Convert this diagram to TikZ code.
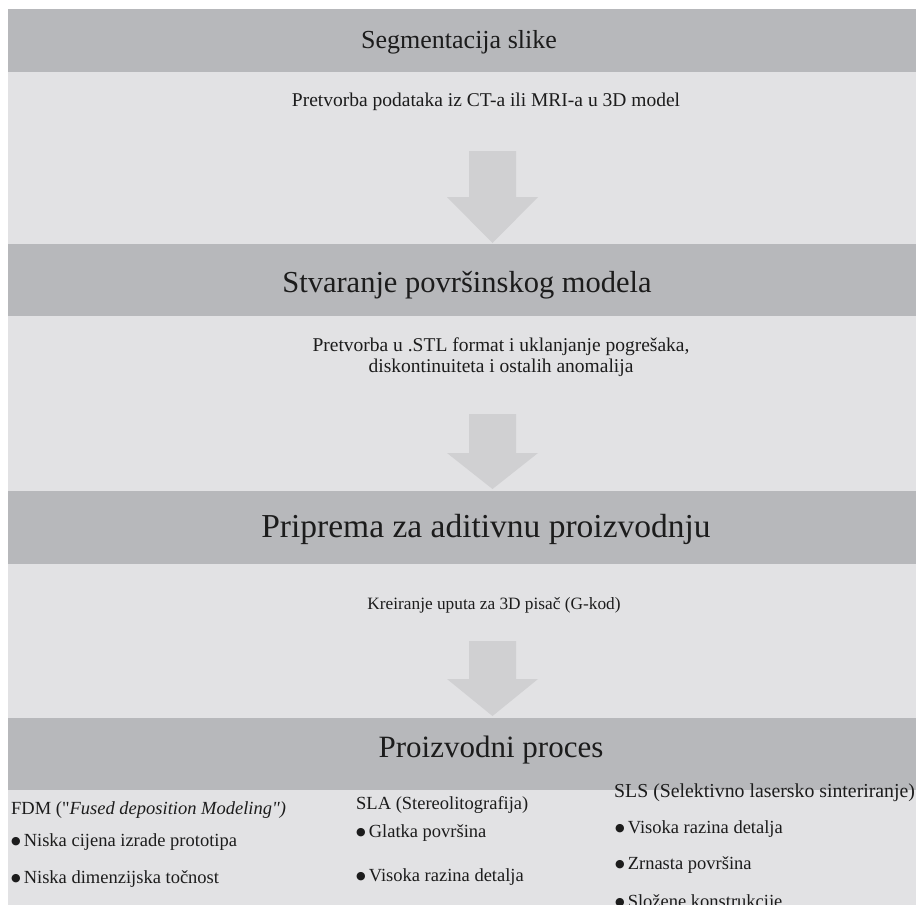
\documentclass[tikz,border=0pt]{standalone}
\usepackage{fontspec}
\setmainfont{Liberation Serif}[Ligatures=TeXOff]
\newfontfamily\bulletfont{DejaVu Sans}
\definecolor{bardark}{RGB}{183,184,187}
\definecolor{panel}{RGB}{226,226,228}
\definecolor{arrowgray}{RGB}{208,208,210}
\definecolor{ink}{RGB}{28,28,28}
\newcommand\bul{\raisebox{1.2pt}{\bulletfont\fontsize{11}{11}\selectfont ●}\hspace{3pt}}
\newcommand\blockarrow[4]{%
  \fill[arrowgray] (#1-23.5,#2) -- (#1+23.5,#2) -- (#1+23.5,#3) -- (#1+45.5,#3)
    -- (#1,#4) -- (#1-45.5,#3) -- (#1-23.5,#3) -- cycle;}
\tikzset{
  bar/.style={fill=bardark, draw=none, minimum width=908pt, inner sep=0pt},
  head/.style={inner sep=0pt, text=ink},
  sub/.style={inner sep=0pt, text=ink, font=\fontsize{19.5}{21}\selectfont, align=center},
  item/.style={inner sep=0pt, text=ink, anchor=base west, font=\fontsize{18.5}{22}\selectfont}
}
\begin{document}
\begin{tikzpicture}[x=1pt,y=-1pt]
\useasboundingbox (0,0) rectangle (919,905);
\fill[white] (0,0) rectangle (919,905);
\begin{scope}
\clip (0,0) rectangle (919,905);
\fill[panel] (8,72) rectangle (916,905);
% header bars
\node[bar, minimum height=63.5pt] (b1) at (462,40.25) {};
\node[bar, minimum height=72pt] (b2) at (462,280) {};
\node[bar, minimum height=73pt] (b3) at (462,527.5) {};
\node[bar, minimum height=72pt] (b4) at (462,754) {};
% header texts
\node[head, font=\fontsize{26}{30}\selectfont] (h1) at (459,42) {Segmentacija slike};
\node[head, font=\fontsize{30.5}{34}\selectfont] (h2) at (467,285) {Stvaranje površinskog modela};
\node[head, font=\fontsize{33.5}{37}\selectfont] (h3) at (486,529) {Priprema za aditivnu proizvodnju};
\node[head, font=\fontsize{31}{35}\selectfont] (h4) at (491,750) {Proizvodni proces};
% subtitles
\node[sub, anchor=base] (s1) at (486,106) {Pretvorba podataka iz CT-a ili MRI-a u 3D model};
\node[sub] (s2) at (501,357) {Pretvorba u .STL format i uklanjanje pogrešaka,\\diskontinuiteta i ostalih anomalija};
\node[sub, anchor=base, font=\fontsize{17.3}{20}\selectfont] (s3) at (494,609) {Kreiranje uputa za 3D pisač (G-kod)};
% block arrows
\blockarrow{492.5}{151}{197}{243}
\blockarrow{492.5}{414}{453}{489}
\blockarrow{492.5}{641}{679}{716}
% FDM column
\node[item] (fdm) at (11,814) {FDM ("\textit{Fused deposition Modeling")}};
\node[item] (fdm1) at (11,846) {\bul Niska cijena izrade prototipa};
\node[item] (fdm2) at (11,883) {\bul Niska dimenzijska točnost};
% SLA column
\node[item] (sla) at (356,809) {SLA (Stereolitografija)};
\node[item] (sla1) at (356,837) {\bul Glatka površina};
\node[item] (sla2) at (356,881) {\bul Visoka razina detalja};
% SLS column
\node[item, font=\fontsize{19.8}{22}\selectfont] (sls) at (614,797) {SLS (Selektivno lasersko sinteriranje)};
\node[item] (sls1) at (615,833) {\bul Visoka razina detalja};
\node[item] (sls2) at (615,869) {\bul Zrnasta površina};
\node[item] (sls3) at (615,907) {\bul Složene konstrukcije};
\end{scope}
\end{tikzpicture}
\end{document}
